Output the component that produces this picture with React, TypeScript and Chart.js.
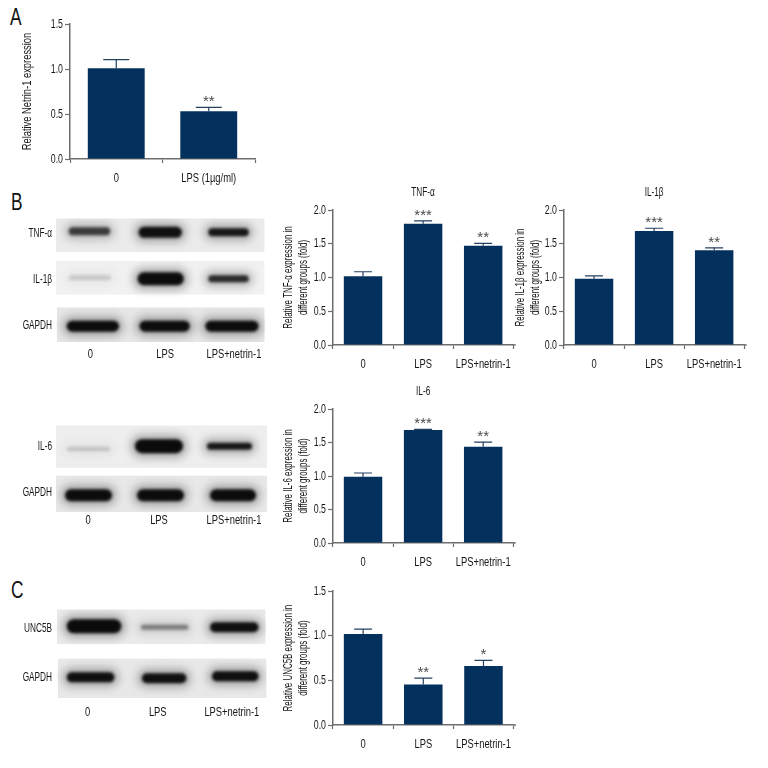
import React, { useEffect, useRef } from "react";
import { Chart, registerables } from "chart.js";

Chart.register(...registerables);

const FONT = "'Liberation Sans', sans-serif";
const BAR = "#03305c";
const AXIS = "#6e6e6e";
const TEXT = "#161616";

// ---- bar chart data ----
const groups = ["0", "LPS", "LPS+netrin-1"];
const groupsA = ["0", "LPS (1\u00b5g/ml)"];

const netrinValues = [1.01, 0.53];
const netrinUpper = [1.105, 0.575];
const netrinStars = ["", "**"];

const tnfValues = [1.02, 1.795, 1.47];
const tnfUpper = [1.085, 1.84, 1.505];
const tnfStars = ["", "***", "**"];

const il1bValues = [0.98, 1.69, 1.405];
const il1bUpper = [1.025, 1.73, 1.44];
const il1bStars = ["", "***", "**"];

const il6Values = [0.99, 1.685, 1.435];
const il6Upper = [1.045, 1.695, 1.505];
const il6Stars = ["", "***", "**"];

const unc5bValues = [1.02, 0.455, 0.66];
const unc5bUpper = [1.075, 0.525, 0.725];
const unc5bStars = ["", "**", "*"];

// ---- blot densities (0 = none, 1 = black) ----
const tnfBand = [0.72, 0.96, 0.92];
const il1bBand = [0.14, 0.98, 0.82];
const gapdhBandB = [0.98, 0.98, 0.98];
const il6Band = [0.16, 0.99, 0.92];
const gapdhBandB2 = [0.98, 0.98, 0.98];
const unc5bBand = [0.99, 0.42, 0.96];
const gapdhBandC = [0.97, 0.96, 0.97];

// The reference uses a condensed face; none is installed, so text is narrowed
// horizontally at draw time, by an amount that depends on its font size.
const NARROW: Record<string, number> = { "13px": 0.61, "12.5px": 0.66, "12px": 0.78, "13.5px": 0.65 };
function condense(canvas: HTMLCanvasElement) {
  const ctx = canvas.getContext("2d") as any;
  const orig = ctx.fillText.bind(ctx);
  ctx.fillText = (t: string, x: number, y: number) => {
    const m = /([\d.]+px)/.exec(ctx.font);
    const k = (m && NARROW[m[1]]) || 1;
    ctx.save();
    ctx.translate(x, y);
    ctx.scale(k, 1);
    orig(t, 0, 0);
    ctx.restore();
  };
}

const errorPlugin = {
  id: "errorBars",
  afterDatasetsDraw(chart: any) {
    const o = chart.options.plugins.errorBars;
    const { ctx, scales, chartArea } = chart;
    const x = scales.x;
    const y = scales.y;
    ctx.save();
    ctx.strokeStyle = AXIS;
    ctx.lineWidth = 1.5;
    ctx.beginPath();
    ctx.moveTo(chartArea.right, y.getPixelForValue(0));
    ctx.lineTo(chartArea.right + o.extend, y.getPixelForValue(0));
    ctx.stroke();
    o.upper.forEach((u: number, i: number) => {
      const px = x.getPixelForTick(i);
      const top = y.getPixelForValue(u);
      const base = y.getPixelForValue(chart.data.datasets[0].data[i]);
      ctx.strokeStyle = "#24405f";
      ctx.lineWidth = 1.2;
      ctx.beginPath();
      ctx.moveTo(px, base);
      ctx.lineTo(px, top);
      ctx.moveTo(px - o.cap, top);
      ctx.lineTo(px + o.cap, top);
      ctx.stroke();
      if (o.stars[i]) {
        ctx.fillStyle = "#4a4a4a";
        ctx.font = `15px ${FONT}`;
        ctx.textAlign = "center";
        ctx.textBaseline = "alphabetic";
        ctx.fillText(o.stars[i], px, top - 1);
      }
    });
    ctx.restore();
  },
};

const bandBlurPlugin = {
  id: "bandBlur",
  beforeDatasetDraw(chart: any, args: any) {
    const ds = chart.data.datasets[args.index];
    chart.ctx.save();
    chart.ctx.filter = `blur(${ds.blur || 0}px)`;
  },
  afterDatasetDraw(chart: any) {
    chart.ctx.restore();
  },
};

const stripPlugin = {
  id: "blotStrips",
  beforeDatasetsDraw(chart: any) {
    const o = chart.options.plugins.blotStrips;
    const { ctx, scales } = chart;
    ctx.save();
    o.strips.forEach((s: any) => {
      const x0 = scales.x.getPixelForValue(s.x0);
      const x1 = scales.x.getPixelForValue(s.x1);
      const y0 = scales.y.getPixelForValue(s.y0);
      const y1 = scales.y.getPixelForValue(s.y1);
      ctx.fillStyle = s.shade;
      ctx.fillRect(x0, y0, x1 - x0, y1 - y0);
    });
    ctx.restore();
  },
};

type BarProps = {
  labels: string[];
  values: number[];
  upper: number[];
  stars: string[];
  yMax: number;
  yTitle: string[];
  yTitleSize: number;
  title?: string;
  left: number;
  plotLeft: number;
  plotRight: number;
  plotTop: number;
  plotBottom: number;
  barFrac: number;
  cap: number;
  extend: number;
};

function BarPanel(p: BarProps) {
  const ref = useRef<HTMLCanvasElement>(null);
  const headroom = p.title ? 24 : 10;
  const top = p.plotTop - headroom;
  const rightPad = 14;
  const width = p.plotRight + rightPad - p.left;
  const height = p.plotBottom + 32 - top;
  useEffect(() => {
    condense(ref.current as HTMLCanvasElement);
    const chart = new Chart(ref.current as HTMLCanvasElement, {
      type: "bar",
      data: {
        labels: p.labels,
        datasets: [
          {
            data: p.values,
            backgroundColor: BAR,
            barPercentage: p.barFrac,
            categoryPercentage: 1,
          },
        ],
      },
      options: {
        animation: false,
        responsive: false,
        layout: { padding: { top: p.title ? 0 : headroom, right: rightPad, left: 0, bottom: 0 } },
        plugins: {
          legend: { display: false },
          tooltip: { enabled: false },
          title: p.title
            ? {
                display: true,
                text: p.title,
                fullSize: false,
                color: TEXT,
                font: { family: FONT, size: 12.5, weight: "normal", lineHeight: "14px" },
                padding: { top: 0, bottom: 10 },
              }
            : { display: false },
          errorBars: { upper: p.upper, stars: p.stars, cap: p.cap, extend: p.extend },
        } as any,
        scales: {
          x: {
            grid: { drawOnChartArea: false, tickLength: 4, tickColor: AXIS, tickWidth: 1.2 },
            border: { color: AXIS, width: 1.5 },
            ticks: { color: TEXT, font: { family: FONT, size: 12 }, padding: 8, maxRotation: 0, autoSkip: false },
            afterFit: (s: any) => {
              s.height = 32;
            },
          },
          y: {
            min: 0,
            max: p.yMax,
            grid: { drawOnChartArea: false, tickLength: 5, tickColor: AXIS, tickWidth: 1.2 },
            border: { color: AXIS, width: 1.5 },
            ticks: {
              stepSize: 0.5,
              color: TEXT,
              font: { family: FONT, size: 13.5 },
              padding: 2,
              callback: (v: any) => Number(v).toFixed(1),
            },
            title: {
              display: true,
              text: p.yTitle,
              color: TEXT,
              font: { family: FONT, size: p.yTitleSize, lineHeight: "15px" },
              padding: 0,
            },
            afterFit: (s: any) => {
              s.width = p.plotLeft - p.left;
            },
          },
        },
      } as any,
      plugins: [errorPlugin],
    });
    return () => chart.destroy();
  }, []);
  return (
    <canvas
      ref={ref}
      width={width}
      height={height}
      style={{ position: "absolute", left: p.left, top, width, height }}
    />
  );
}

type Band = { x0: number; x1: number; y: number; w: number; d: number };
type BlotProps = {
  rows: string[];
  rowY: number[];
  strips: { x0: number; x1: number; y0: number; y1: number; shade: string }[];
  bands: Band[];
  labelX: number[];
  labelGap: number;
};

function BlotPanel(p: BlotProps) {
  const ref = useRef<HTMLCanvasElement>(null);
  const yMin = p.strips[0].y0;
  const yMax = p.strips[p.strips.length - 1].y1;
  const top = yMin - 10;
  const areaH = yMax - yMin;
  const bottomH = 30;
  const height = 10 + areaH + bottomH;
  useEffect(() => {
    condense(ref.current as HTMLCanvasElement);
    const datasets: any[] = [];
    p.bands.forEach((b) => {
      const line = [
        { x: b.x0 + b.w / 2, y: b.y },
        { x: b.x1 - b.w / 2, y: b.y },
      ];
      const common = { data: line, pointRadius: 0, borderCapStyle: "round", tension: 0 };
      datasets.push({
        ...common,
        borderColor: `rgba(20,20,20,${b.d * 0.32})`,
        borderWidth: b.w + 9,
        blur: 4,
      });
      datasets.push({
        ...common,
        borderColor: `rgba(5,5,5,${b.d})`,
        borderWidth: b.w,
        blur: 1.8,
      });
    });
    const xLabels = ["0", "LPS", "LPS+netrin-1"];
    const chart = new Chart(ref.current as HTMLCanvasElement, {
      type: "line",
      data: { datasets },
      options: {
        animation: false,
        responsive: false,
        layout: { padding: { top: 10, right: 6, left: 0, bottom: 0 } },
        plugins: {
          legend: { display: false },
          tooltip: { enabled: false },
          title: { display: false },
          blotStrips: { strips: p.strips },
        } as any,
        scales: {
          x: {
            type: "linear",
            min: 56,
            max: 269,
            grid: { display: false, drawTicks: false },
            border: { display: false },
            afterBuildTicks: (s: any) => {
              s.ticks = p.labelX.map((value) => ({ value }));
            },
            ticks: {
              autoSkip: false,
              maxRotation: 0,
              color: TEXT,
              padding: p.labelGap,
              font: { family: FONT, size: 12 },
              callback: (v: any) => xLabels[p.labelX.indexOf(v)],
            },
            afterFit: (s: any) => {
              s.height = bottomH;
            },
          },
          y: {
            type: "linear",
            reverse: true,
            min: yMin,
            max: yMax,
            grid: { display: false, drawTicks: false },
            border: { display: false },
            afterBuildTicks: (s: any) => {
              s.ticks = p.rowY.map((value) => ({ value }));
            },
            ticks: {
              autoSkip: false,
              color: TEXT,
              padding: 4,
              font: { family: FONT, size: 12.5 },
              callback: (v: any) => p.rows[p.rowY.indexOf(v)],
            },
            afterFit: (s: any) => {
              s.width = 56;
            },
          },
        },
      } as any,
      plugins: [stripPlugin, bandBlurPlugin],
    });
    return () => chart.destroy();
  }, []);
  return (
    <canvas
      ref={ref}
      width={275}
      height={height}
      style={{ position: "absolute", left: 0, top, width: 275, height }}
    />
  );
}

const letter = (t: string, left: number, top: number) => (
  <div
    style={{
      position: "absolute",
      left,
      top,
      font: `24px ${FONT}`,
      lineHeight: "28px",
      color: "#111",
      transform: "scaleX(0.72)",
      transformOrigin: "left top",
    }}
  >
    {t}
  </div>
);

export default function App() {
  const trio = { barFrac: 0.64, cap: 9, extend: 2.5, yTitleSize: 13 };
  return (
    <div style={{ position: "absolute", left: 0, top: 0, width: 768, height: 768, background: "#fff", overflow: "hidden" }}>
      {letter("A", 10, 3)}
      {letter("B", 11, 188)}
      {letter("C", 11, 576)}

      <BarPanel
        labels={groupsA}
        values={netrinValues}
        upper={netrinUpper}
        stars={netrinStars}
        yMax={1.5}
        yTitle={["Relative Netrin-1 expression"]}
        yTitleSize={12}
        left={20}
        plotLeft={70}
        plotRight={255}
        plotTop={24}
        plotBottom={159}
        barFrac={0.615}
        cap={13}
        extend={0}
      />
      <BarPanel
        labels={groups}
        values={tnfValues}
        upper={tnfUpper}
        stars={tnfStars}
        yMax={2}
        yTitle={["Relative TNF-\u03b1 expression in", "different groups (fold)"]}
        title={"TNF-\u03b1"}
        left={281}
        plotLeft={333}
        plotRight={515}
        plotTop={210}
        plotBottom={345}
        {...trio}
      />
      <BarPanel
        labels={groups}
        values={il1bValues}
        upper={il1bUpper}
        stars={il1bStars}
        yMax={2}
        yTitle={["Relative IL-1\u03b2 expression in", "different groups (fold)"]}
        title={"IL-1\u03b2"}
        left={513}
        plotLeft={564}
        plotRight={746}
        plotTop={210}
        plotBottom={345}
        {...trio}
      />
      <BarPanel
        labels={groups}
        values={il6Values}
        upper={il6Upper}
        stars={il6Stars}
        yMax={2}
        yTitle={["Relative IL-6 expression in", "different groups (fold)"]}
        title="IL-6"
        left={281}
        plotLeft={333}
        plotRight={515}
        plotTop={409}
        plotBottom={543}
        {...trio}
      />
      <BarPanel
        labels={groups}
        values={unc5bValues}
        upper={unc5bUpper}
        stars={unc5bStars}
        yMax={1.5}
        yTitle={["Relative UNC5B expression in", "different groups (fold)"]}
        left={281}
        plotLeft={333}
        plotRight={515}
        plotTop={591}
        plotBottom={725}
        {...trio}
      />

      <BlotPanel
        rows={["TNF-\u03b1", "IL-1\u03b2", "GAPDH"]}
        rowY={[232, 279, 325]}
        strips={[
          { x0: 56, x1: 268, y0: 217, y1: 251, shade: "#ebebeb" },
          { x0: 56, x1: 268, y0: 260, y1: 294, shade: "#f1f1f1" },
          { x0: 57, x1: 268, y0: 307, y1: 342, shade: "#e6e6e6" },
        ]}
        bands={[
          { x0: 69, x1: 111, y: 230, w: 8, d: tnfBand[0] },
          { x0: 140, x1: 184, y: 231, w: 11, d: tnfBand[1] },
          { x0: 211, x1: 252, y: 231, w: 8, d: tnfBand[2] },
          { x0: 69, x1: 112, y: 277, w: 5, d: il1bBand[0] },
          { x0: 139, x1: 186, y: 278, w: 13, d: il1bBand[1] },
          { x0: 211, x1: 252, y: 278, w: 7, d: il1bBand[2] },
          { x0: 67, x1: 120, y: 326, w: 11, d: gapdhBandB[0] },
          { x0: 141, x1: 192, y: 326, w: 11, d: gapdhBandB[1] },
          { x0: 208, x1: 262, y: 326, w: 11, d: gapdhBandB[2] },
        ]}
        labelX={[91, 167, 237]}
        labelGap={5}
      />
      <BlotPanel
        rows={["IL-6", "GAPDH"]}
        rowY={[445, 492]}
        strips={[
          { x0: 56, x1: 267, y0: 424, y1: 467, shade: "#eeeeee" },
          { x0: 56, x1: 267, y0: 475, y1: 512, shade: "#e8e8e8" },
        ]}
        bands={[
          { x0: 67, x1: 110, y: 448, w: 4, d: il6Band[0] },
          { x0: 135, x1: 183, y: 445, w: 14, d: il6Band[1] },
          { x0: 207, x1: 252, y: 445, w: 7, d: il6Band[2] },
          { x0: 65, x1: 112, y: 495, w: 12, d: gapdhBandB2[0] },
          { x0: 137, x1: 184, y: 495, w: 12, d: gapdhBandB2[1] },
          { x0: 210, x1: 256, y: 495, w: 12, d: gapdhBandB2[2] },
        ]}
        labelX={[88, 159, 234]}
        labelGap={1}
      />
      <BlotPanel
        rows={["UNC5B", "GAPDH"]}
        rowY={[627, 677]}
        strips={[
          { x0: 57, x1: 268, y0: 608, y1: 643, shade: "#eaeaea" },
          { x0: 58, x1: 269, y0: 658, y1: 698, shade: "#e8e8e8" },
        ]}
        bands={[
          { x0: 67, x1: 122, y: 625, w: 14, d: unc5bBand[0] },
          { x0: 142, x1: 190, y: 626, w: 5, d: unc5bBand[1] },
          { x0: 212, x1: 261, y: 626, w: 10, d: unc5bBand[2] },
          { x0: 67, x1: 115, y: 677, w: 10, d: gapdhBandC[0] },
          { x0: 143, x1: 188, y: 678, w: 10, d: gapdhBandC[1] },
          { x0: 214, x1: 261, y: 676, w: 10, d: gapdhBandC[2] },
        ]}
        labelX={[88, 159, 234]}
        labelGap={7}
      />
    </div>
  );
}
